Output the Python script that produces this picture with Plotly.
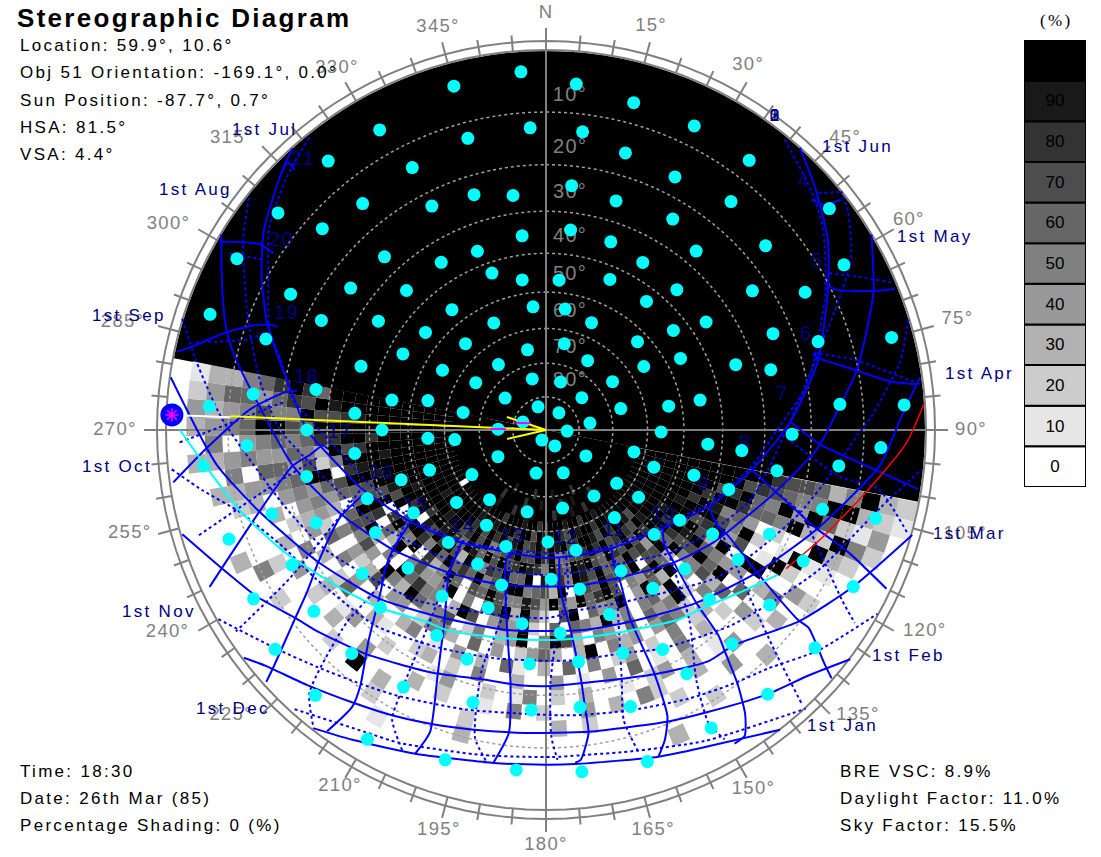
import math
import numpy as np
import plotly.graph_objects as go

# ---------------- data (azimuth / altitude, degrees) ----------------
level_values = [0, 10, 20, 30, 40, 50, 60, 70, 80, 90, 100]
level_labels = ["0", "10", "20", "30", "40", "50", "60", "70", "80", "90", ""]
altitude_rings = [10, 20, 30, 40, 50, 60, 70, 80]
azimuth_ticks = list(range(0, 360, 15))
azimuth_labels = ["N"] + [f"{a}°" for a in azimuth_ticks[1:]]

dot_az = [356,345,5,15,26,357,345,7,16,333,27,343,352,6,333,17,31,353,7,19,
 339,328,40,30,341,351,5,23,315,43,38,322,354,9,334,23,56,309,52,46,
 317,347,12,298,31,62,324,57,300,304,345,17,54,48,308,284,341,74,79,
 79,37,282,289,81,37,39,52,50,61,56,62,67,75,72,71,75,85,86,331,321,
 321,309,312,317,299,306,298,289,296,303,288,289,280,277,281,274,275,271,
 270,270,266,264,202,267,263,241,251,239,193,264,251,259,219,231,249,193,
 253,238,212,248,239,251,221,179,199,207,225,242,232,196,212,240,232,223,198,
 93,91,91,151,95,96,104,93,123,109,97,100,158,107,127,108,144,126,168,
 106,142,124,105,134,122,115,166,124,117,152,135,178,168,146,117,136,128,161,
 176,129,139,161,152,172,150,173,163,140,151,163,174,187,208,231,221,199,184,
 209,221,195,183,210,197,185]
dot_alt = [3.1,3.6,5.0,6.4,6.5,12.8,12.9,13.2,15.5,14.3,16.3,24.0,26.0,24.1,22.9,25.4,24.0,35.4,34.0,34.6,
 36.4,34.9,26.7,35.9,42.7,46.3,46.7,43.3,35.0,36.3,43.4,46.1,53.8,54.2,55.1,55.8,36.0,45.5,43.8,52.9,
 55.4,65.5,63.8,43.7,65.9,46.2,65.9,55.8,55.0,64.8,74.1,74.9,65.5,75.5,74.4,54.4,82.6,66.8,53.5,
 45.0,83.5,64.8,82.6,76.6,6.6,14.4,3.0,15.8,6.1,23.4,14.5,23.9,3.3,15.9,34.2,26.9,14.2,3.1,5.7,5.2,
 14.9,5.4,13.1,26.0,4.0,25.0,15.3,3.7,23.2,34.4,14.3,35.4,26.7,14.2,45.0,6.6,36.3,75.6,
 25.5,43.2,55.3,62.8,86.7,13.4,36.1,73.5,54.0,64.3,76.7,5.5,46.0,24.5,63.4,56.2,36.4,65.0,
 15.8,45.2,57.0,23.6,34.6,7.0,47.1,57.1,54.0,46.7,35.5,15.6,26.8,43.9,35.3,6.6,14.3,24.7,37.5,
 83.6,56.2,24.0,84.5,43.6,35.1,63.1,7.0,75.7,56.5,14.2,26.5,76.1,45.6,63.7,36.2,65.7,56.4,66.2,
 15.6,57.3,43.9,6.0,46.7,35.2,23.9,53.8,27.1,15.4,44.3,35.2,47.0,43.6,36.5,5.4,26.3,16.3,35.5,
 33.5,5.2,16.4,26.2,23.5,26.6,16.8,17.2,15.3,5.4,6.1,5.1,5.6,35.5,26.9,4.8,14.0,24.8,26.5,
 14.4,4.3,16.7,17.0,3.4,5.4,6.0]

# Sun paths, first half of the year (solid)
jan_az = [218,212,202,189,180,175,161,153,142]
jan_alt = [0.1,2.1,4.7,6.7,7.1,7.0,5.3,3.7,-0.2]
feb_az = [233,230,223,215,208,201,194,184,172,157,150,140,133,127]
feb_alt = [0.1,1.9,4.7,7.3,9.0,10.5,11.7,12.6,12.4,10.3,8.7,5.4,3.0,-0.3]
mar_az = [254,247,240,233,229,219,205,194,186,179,156,145,139,127,117,106]
mar_alt = [0.1,4.1,7.3,10.9,12.3,15.6,19.5,21.7,21.8,21.9,19.6,16.6,16.0,10.1,5.4,-0.3]
apr_az = [278,264,254,240,225,209,191,170,156,139,124,110,96,88,82]
apr_alt = [0.0,7.7,13.7,20.4,25.8,31.0,33.5,33.6,32.1,27.7,22.2,15.4,6.9,3.7,0.2]
may_az = [301,293,287,283,262,247,232,214,196,169,152,136,124,106,94,88,79,72,67,59]
may_alt = [0.0,4.3,7.3,9.9,22.0,29.7,35.7,41.1,44.0,44.5,42.7,38.2,34.0,26.3,18.7,15.7,10.2,6.5,3.6,-0.1]
jun_az = [318,314,305,298,291,285,281,270,263,252,235,217,195,180,165,150,130,115,101,88,76,64,56,48,42]
jun_alt = [0.0,1.6,5.4,9.3,13.5,17.7,20.3,25.5,30.3,36.1,43.6,49.2,52.8,52.7,52.3,50.6,46.1,39.1,32.1,24.3,17.1,10.8,6.2,2.6,-0.1]
# Sun paths, second half of the year (dotted)
jul_az = [321,314,306,299,290,285,277,275,267,254,236,215,195,180,164,150,129,114,100,90,80,64,54,48,39]
jul_alt = [0.4,2.7,5.8,10.1,14.3,18.1,22.1,23.8,30.6,37.6,44.1,50.2,53.6,54.0,53.0,51.3,46.6,39.4,32.3,27.3,20.0,11.3,5.8,3.4,0.3]
aug_az = [308,302,291,280,270,253,243,216,205,180,168,150,134,121,108,83,61,54,51]
aug_alt = [0.3,3.4,9.7,15.0,19.9,30.8,34.9,43.8,46.4,48.1,48.0,45.9,40.2,35.6,30.3,22.0,4.8,0.9,-0.1]
sep_az = [287,281,272,254,242,230,217,199,180,169,156,142,131,120,108,99,91,88,79,73]
sep_alt = [-0.2,3.6,8.9,18.5,22.8,27.6,31.2,35.9,37.2,38.4,37.1,33.4,28.5,24.7,19.6,15.6,11.2,8.9,2.8,0.0]
oct_az = [264,260,255,246,237,221,206,193,179,172,161,152,137,128,117,103,96]
oct_alt = [0.4,4.8,10.2,15.6,18.3,21.2,24.8,26.6,27.3,27.0,26.2,23.7,19.4,16.5,12.0,5.6,0.2]
nov_az = [240,231,224,216,209,196,179,173,163,152,144,137,129,119]
nov_alt = [0.1,5.0,8.0,10.7,12.5,15.0,16.1,15.7,14.6,12.5,10.6,8.6,4.5,0.0]
dec_az = [222,211,205,191,179,174,164,153,137]
dec_alt = [0.5,4.2,5.3,7.7,8.4,8.4,7.3,4.7,-0.3]

# Hour lines (solid part)
h4_az, h4_alt = [49,51,52], [4.3,3.3,0.7]
h5_az, h5_alt = [62,64,67,68], [10.5,9.5,3.6,0.4]
h6_az, h6_alt = [74,75,79,82,83], [17.5,17.0,10.6,4.9,0.8]
h7_az, h7_alt = [88,93,96,99], [24.4,18.2,10.4,0.4]
h8_az, h8_alt = [101,105,110,112,115], [32.1,25.9,15.6,8.6,0.5]
h9_az, h9_alt = [115,119,120,124,127,127,130,131], [39.1,35.6,32.2,22.3,10.4,8.1,2.4,0.1]
h10_az, h10_alt = [130,134,136,139,140,141,143,145,147,149], [46.1,43.2,38.2,27.7,19.4,16.4,9.9,5.0,2.2,2.0]
h11_az, h11_alt = [151,153,154,156,156,157,159,161], [50.7,47.1,41.7,32.5,20.0,11.3,7.6,5.3]
h12_az, h12_alt = [174,175,173,172,172,172,174,175], [52.7,44.8,34.0,22.6,16.6,12.2,7.6,7.2]
h13_az, h13_alt = [195,197,196,191,188,187,189], [52.8,51.4,47.1,33.5,22.1,12.3,6.7]
h14_az, h14_alt = [217,216,214,208,204,201,202], [49.5,47.1,40.8,30.6,19.9,9.0,4.7]
h15_az, h15_alt = [236,232,229,226,220,216,215,216], [43.6,35.7,31.2,27.7,17.8,10.4,6.6,1.0]
h16_az, h16_alt = [251,247,240,236,233,229,228], [36.8,28.9,20.6,15.6,10.6,2.8,0.4]
h17_az, h17_alt = [265,266,264,262,245], [30.0,28.9,25.9,22.0,1.2]
h18_az, h18_alt = [279,278,274,267,262], [22.8,20.0,13.9,6.3,0.4]
h19_az, h19_alt = [291,291,290,287,283,282], [15.6,14.7,11.9,7.2,2.0,0.3]
h20_az, h20_alt = [303,303,303,300], [8.8,7.8,5.9,0.3]
h21_az, h21_alt = [316,316,314], [2.7,1.1,1.6]
# Hour lines (dotted part)
d4_az, d4_alt = [49,51], [2.8,0.1]
d5_az, d5_alt = [61,64,67], [9.0,4.7,0.3]
d6_az, d6_alt = [74,77,83], [17.4,10.6,0.4]
d7_az, d7_alt = [90,99,100,106], [27.3,13.8,6.7,0.4]
d8_az, d8_alt = [105,108,115,120,122], [26.0,19.6,12.2,5.8,2.3]
d9_az, d9_alt = [118,130,134,137], [36.0,19.1,10.0,0.5]
d10_az, d10_alt = [133,143,149,151,150], [43.7,25.7,14.8,6.9,3.4]
d11_az, d11_alt = [152,163,165,164], [47.6,21.4,13.2,7.1]
d12_az, d12_alt = [171,172,177,179,179,178], [52.6,44.6,33.1,22.5,12.0,7.9]
d13_az, d13_alt = [196,193,195,193,190], [52.1,37.9,23.6,10.4,6.5]
d14_az, d14_alt = [217,211,209,208,204], [48.2,27.5,13.6,8.3,4.2]
d15_az, d15_alt = [237,227,226,222,218], [42.4,27.3,17.6,4.0,0.2]
d16_az, d16_alt = [252,240,237], [35.4,14.2,1.4]
d17_az, d17_alt = [263,258,253], [27.3,16.0,2.1]
d18_az, d18_alt = [276,271,268], [20.2,9.8,1.7]
d19_az, d19_alt = [289,287,284], [13.5,11.4,2.5]
d20_az, d20_alt = [301,299], [7.7,2.1]

# Today's path: cyan where visible, red where blocked
today_az = [270,264,255,245,232,223,212,206,192,180,170,159,145,139,130,122]
today_alt = [2.0,5.8,10.4,15.4,21.4,24.6,28.4,29.0,31.4,32.0,31.8,30.6,27.2,26.0,22.6,18.4]
today_red_az = [120,111,100,92,86]
today_red_alt = [17.6,13.8,8.0,2.8,0.0]

sun_az, sun_alt = 272.3, 0.7
object_orientation = 190.9
hour_labels = ["4","5","6","7","8","9","10","11","12","13","14","15","16","17","18","19","20","21"]
date_labels = ["1st Jun","1st May","1st Apr","1st Mar","1st Feb","1st Jan","1st Dec","1st Nov","1st Oct","1st Sep","1st Aug","1st Jul"]

# Shading of the 3° x 3° sky patches: one row per 3° of altitude, starting at 0°,
# one character per 3° of azimuth, starting at 101°. '.' = clear, 1-9 = tens of %, a = 100 %.
shade_rows = [
 "21........ .......... .......... .......... .......... ..........",
 "3242...... .......... .......... .......... .......... ....3.3421",
 "a3152..... ........3. .......... ......1... ........3. ..3.354343",
 "5a2a31.2.. .3...2.... .......... .3.....2.. .....2.5.. .2354.5463",
 "3a62a1.4.3 ...4...2.. ...2.3.... .2.....3.a .2.....2.. .34.546565",
 "65a3.a2.5. 2.41.3..25 .3.4..2.5. 1..2.3...4 ..3.2.4.3. 3.4645a746",
 "754a.1a.3. 4..1.3.42. 1..3.2.51. 2..41...2. .41.3..5.2 .45646a568",
 "76a52.1a.6 .2.3.5.1.6 .4.1.4..3. .5.2.32..1 3..62.3.43 456465758a",
 "8756.2.a4. 6.32.5.2.4 2.5.6.3.16 .3.4.1.53. .3.4.5.624 54a7566a78",
 "a8664a7.4a 35.2564.43 5.a3.3642. 4.6.3552.4 4.7324.5.3 46a238a7a6",
 "a7a8654a56 7.2a546.61 45.37a5.a4 3.52.7546a 35a.47576. 67.5a8a79a",
 "aa8a57a36a 54.a265.53 a356.6.2a4 64.7a3.558 6a.5.3a7a6 6a8a7aa8aa",
 "aa7a9a87a7 5.a36a4.a5 46.a7.25a3 a76.5.a544 75.a36.8a7 7a9a8aa9aa",
 "aaa8aa7a97 a36a745.7a 86a46a4795 57a67.6a53 8.a56a8.a7 a9aaa8aaaa",
 "aaaa8aa7a8 6a77.a667a 678.a3765a a675a686a6 a58aa7.a79 aaa9aaaaaa",
 "aaaaa9aa8a 7a487a676a 79a5869.a6 6a7857a37a 8a79.a8aaa aaaaaaaaaa",
 "aaaaaaa9aa a8a7a78a67 a9a67a589a 87a7a69a68 a9aa8aaa9a aaaaaaaaaa",
 "aaaaaaaaaa 9a78a87a8a 87765a8a77 a8765a7a87 aa9aaaaaaa aaaaaaaaaa",
 "aaaaaaaaaa a79aa8a79a a87a9a8a87 a97a8a7a8a aaaaa9aaaa aaaaaaaaaa",
 "aaaaaaaaaa aaaa9aa8aa 9a78aa9a7a a8aaa9aa9a aaaaaaaaaa aaaaaaaaaa",
 "aaaaaaaaaa aaaaaa9aa8 aa9aaaa8aa 9aaa8aaa9a aaaaa.aaaa aaaaaaaaaa",
 "aaaaaaaaaa aaaaaaa8aa 9aaa8aaaa9 aaa8aaa9aa aaaaaaaaaa aaaaaaaaaa",
 "aaaaaaaaaa aaaa8aaaa9 aa8aaaa9aa a8aaaaa8aa aaaaaaaaaa aaaaaaaaaa",
 "aaaaaaaaaa aaaaaaaa8a aaaa9aaaa8 aaaaa9aaaa aaaaaaaaaa aaaaaaaaaa",
]

# ---------------- scales and styles ----------------
R = 379.0
def proj(alt):
    return R * math.tan(math.radians((90 - alt) / 2))
def projs(alts):
    return [None if a is None else proj(a) for a in alts]
def gray(v):
    g = round(255 * (1 - v / 100))
    return f"rgb({g},{g},{g})"
def px(x): return x / 1101
def py(y): return 1 - y / 857
def join(names):
    az, alt = [], []
    for n in names:
        az += globals()[n + "_az"] + [None]
        alt += globals()[n + "_alt"] + [None]
    return az, alt

BLUE = "#0000ff"; NAVY = "#000080"; GRAY = "#808080"; CYAN = "#00ffff"
SANS = "Liberation Sans"

fig = go.Figure()

# blocked half of the sky
fig.add_trace(go.Barpolar(theta=[object_orientation - 180], width=[180], base=[0], r=[R],
                          marker=dict(color="black", line_width=0), hoverinfo="skip"))
fig.add_trace(go.Barpolar(theta=[object_orientation], width=[180], base=[0], r=[proj(62.5)],
                          marker=dict(color="black", line_width=0), hoverinfo="skip"))
# sky patches
c_t, c_b, c_r, c_c = [], [], [], []
for j, row in enumerate(shade_rows):
    row = row.replace(" ", "")
    lo, hi = proj(3 * j + 3), proj(3 * j)
    for i, ch in enumerate(row):
        if ch == ".":
            continue
        v = 100 if ch == "a" else int(ch) * 10
        c_t.append(102.5 + 3 * i); c_b.append(lo); c_r.append(hi - lo); c_c.append(gray(v))
fig.add_trace(go.Barpolar(theta=c_t, width=[3] * len(c_t), base=c_b, r=c_r,
                          marker=dict(color=c_c, line_width=0), hoverinfo="skip"))

# altitude rings
ring_az = list(np.arange(0, 361, 3))
for a in altitude_rings:
    fig.add_trace(go.Scatterpolar(theta=ring_az, r=[proj(a)] * len(ring_az), mode="lines",
                                  line=dict(color="#a0a0a0", width=1.5, dash="dot"), hoverinfo="skip"))
# compass rings, crosshair, minor ticks
for rr in (380, 389):
    fig.add_trace(go.Scatterpolar(theta=ring_az, r=[rr] * len(ring_az), mode="lines",
                                  line=dict(color=GRAY, width=2), hoverinfo="skip"))
mt_t, mt_r = [], []
for a in range(0, 360, 5):
    if a % 15:
        mt_t += [a, a, None]; mt_r += [380, 396, None]
fig.add_trace(go.Scatterpolar(theta=mt_t, r=mt_r, mode="lines", line=dict(color=GRAY, width=2), hoverinfo="skip"))
fig.add_trace(go.Scatterpolar(theta=[0, 180, None, 90, 270], r=[402, 402, None, 402, 402], mode="lines",
                              line=dict(color=GRAY, width=2), hoverinfo="skip"))

# compass labels, on a full-page overlay because they lie outside the polar range
lab_t = [0, 14.6, 29, 45.7, 60, 75, 90, 104, 118, 132.5, 150, 165, 180, 195, 210, 227.8, 241.9, 256, 270, 284.3, 298.6, 312.9, 330, 345]
lab_r = [417, 417, 417, 418, 419, 426, 425, 432, 429, 423, 415, 414, 415, 414, 412, 425, 429, 429, 431, 437, 430, 429, 418, 417]
fig.add_trace(go.Scatter(x=[r * math.sin(math.radians(t)) for t, r in zip(lab_t, lab_r)],
                         y=[r * math.cos(math.radians(t)) for t, r in zip(lab_t, lab_r)],
                         mode="text", text=azimuth_labels, textposition="middle center", cliponaxis=False,
                         textfont=dict(family=SANS, size=18.5, color=GRAY), hoverinfo="skip",
                         xaxis="x2", yaxis="y2"))

# altitude and hour labels (under the sample dots)
fig.add_trace(go.Scatterpolar(theta=[4.1, 4.9, 5.8, 7.1, 8.8, 11.5, 16.3, 26],
                              r=[335, 283, 238, 194.5, 157, 120.4, 85.4, 54.6],
                              mode="text", text=[f"{a}°" for a in altitude_rings],
                              textfont=dict(family=SANS, size=20, color=GRAY), hoverinfo="skip"))
fig.add_trace(go.Scatterpolar(theta=[46.1, 58.2, 69.9, 81.6, 94, 109.2, 126, 146, 169.6, 197.1, 220.6, 239.4, 255, 269.2, 282.3, 294.1, 305.6, 318],
                              r=[358, 319, 277, 239, 200, 167, 145, 122, 111, 112, 128, 151, 170, 206, 245, 284, 325, 363],
                              mode="text", text=hour_labels,
                              textfont=dict(family=SANS, size=20, color=NAVY), hoverinfo="skip"))
fig.add_trace(go.Scatterpolar(theta=[36.2] * 4, r=[388] * 4, mode="text", text=["0", "1", "2", "3"],
                              textfont=dict(family=SANS, size=17, color=NAVY), hoverinfo="skip"))

# sun paths
az, alt = join(["jul", "aug", "sep", "oct", "nov", "dec"] + [f"d{i}" for i in range(4, 21)])
fig.add_trace(go.Scatterpolar(theta=az, r=projs(alt), mode="lines", connectgaps=False,
                              line=dict(color=BLUE, width=2, dash="dot", shape="spline", smoothing=0.6), hoverinfo="skip"))
az, alt = join(["jan", "feb", "mar", "apr", "may", "jun"] + [f"h{i}" for i in range(4, 22)])
fig.add_trace(go.Scatterpolar(theta=az, r=projs(alt), mode="lines", connectgaps=False,
                              line=dict(color=BLUE, width=2, shape="spline", smoothing=0.6), hoverinfo="skip"))
fig.add_trace(go.Scatterpolar(theta=today_az, r=projs(today_alt), mode="lines",
                              line=dict(color=CYAN, width=2, shape="spline", smoothing=0.6), hoverinfo="skip"))
fig.add_trace(go.Scatterpolar(theta=today_red_az, r=projs(today_red_alt), mode="lines",
                              line=dict(color="#ff0000", width=1.5, shape="spline", smoothing=0.6), hoverinfo="skip"))

# sun direction
fig.add_trace(go.Scatterpolar(theta=[sun_az, sun_az], r=[proj(sun_alt), proj(10.4)], mode="lines",
                              line=dict(color="white", width=2), hoverinfo="skip"))
fig.add_trace(go.Scatterpolar(theta=[272.5, 272.5], r=[proj(10.4), 0], mode="lines",
                              line=dict(color="#ffff00", width=2), hoverinfo="skip"))
fig.add_trace(go.Scatterpolar(theta=[288.4, 0, 257], r=[proj(77.6), 0, proj(78)], mode="lines",
                              line=dict(color="#ffff00", width=2), hoverinfo="skip"))

# sample dots
fig.add_trace(go.Scatterpolar(theta=dot_az, r=projs(dot_alt), mode="markers",
                              marker=dict(color=CYAN, size=13, line_width=0), hoverinfo="skip"))
fig.add_trace(go.Scatterpolar(theta=[271.2, 287], r=[proj(75.6), proj(82.8)], mode="markers",
                              marker=dict(symbol="line-ew", size=11, line=dict(color="#ff00ff", width=2)), hoverinfo="skip"))
fig.add_trace(go.Scatterpolar(theta=[sun_az], r=[proj(sun_alt)], mode="markers",
                              marker=dict(color=BLUE, size=23, line_width=0), hoverinfo="skip"))
fig.add_trace(go.Scatterpolar(theta=[sun_az], r=[proj(sun_alt)], mode="markers",
                              marker=dict(symbol="asterisk", size=11, line=dict(color="#ff00ff", width=1.5)), hoverinfo="skip"))

# legend scale
fig.add_trace(go.Bar(x=[0] * len(level_values), y=[1] * len(level_values), base=list(range(len(level_values))),
                     width=1, marker=dict(color=[gray(v) for v in level_values], line=dict(color="black", width=2)),
                     text=level_labels, textposition="inside", insidetextanchor="middle", textangle=0,
                     textfont=dict(family=SANS, size=17, color="black"), hoverinfo="skip",
                     xaxis="x", yaxis="y"))

ann = []
def label(x, y, text, size=17, color="black", family=SANS):
    ann.append(dict(x=px(x), y=py(y), xref="paper", yref="paper", xanchor="left", yanchor="middle", align="left",
                    showarrow=False, text=text, font=dict(family=family, size=size, color=color)))

label(15, 18, "<b>Stereographic Diagram</b>", size=26)
info_left = ["Location: 59.9°, 10.6°", "Obj 51 Orientation: -169.1°, 0.0°", "Sun Position: -87.7°, 0.7°", "HSA: 81.5°", "VSA: 4.4°"]
for t, y in zip(info_left, (46, 73, 100, 127, 154)):
    label(18, y, t)
for t, y in zip(["Time: 18:30", "Date: 26th Mar (85)", "Percentage Shading: 0 (%)"], (771, 798, 825)):
    label(18, y, t)
for t, y in zip(["BRE VSC: 8.9%", "Daylight Factor: 11.0%", "Sky Factor: 15.5%"], (771, 798, 825)):
    label(838, y, t)
label(1038, 21, "(%)", family="Liberation Serif")
date_pos = [(820, 147), (895, 236), (943, 373), (931, 533), (870, 655), (805, 725),
            (194, 708), (120, 611), (80, 466), (90, 315), (157, 190), (230, 129)]
for t, (x, y) in zip(date_labels, date_pos):
    label(x, y, t, color=NAVY)

fig.update_layout(
    width=1101, height=857, margin=dict(l=0, r=0, t=0, b=0, pad=0), autosize=False,
    paper_bgcolor="white", plot_bgcolor="rgba(0,0,0,0)", showlegend=False, barmode="overlay",
    annotations=ann,
    polar=dict(
        domain=dict(x=[px(546 - 402), px(546 + 402)], y=[py(430 + 402), py(430 - 402)]),
        bgcolor="rgba(0,0,0,0)",
        radialaxis=dict(range=[0, 402], visible=False),
        angularaxis=dict(direction="clockwise", rotation=90, tickmode="array", tickvals=azimuth_ticks,
                         showticklabels=False, showgrid=False, showline=False, ticks="inside", ticklen=22,
                         tickwidth=2, tickcolor=GRAY, layer="below traces"),
    ),
    xaxis=dict(domain=[px(1024), px(1086)], range=[-0.5, 0.5], visible=False, fixedrange=True),
    yaxis=dict(domain=[py(487), py(40)], range=[0, 11], visible=False, fixedrange=True),
    xaxis2=dict(domain=[0, 1], range=[-546, 555], visible=False, fixedrange=True, anchor="y2"),
    yaxis2=dict(domain=[0, 1], range=[-427, 430], visible=False, fixedrange=True, anchor="x2"),
)
css = ("body{margin:0}"
       ".annotation-text{letter-spacing:2.3px}"
       ".textpoint text{letter-spacing:1.3px}")
fig.write_html("out.html", config=dict(displayModeBar=False),
               post_script="var s=document.createElement('style');s.textContent='%s';document.head.appendChild(s);" % css)
